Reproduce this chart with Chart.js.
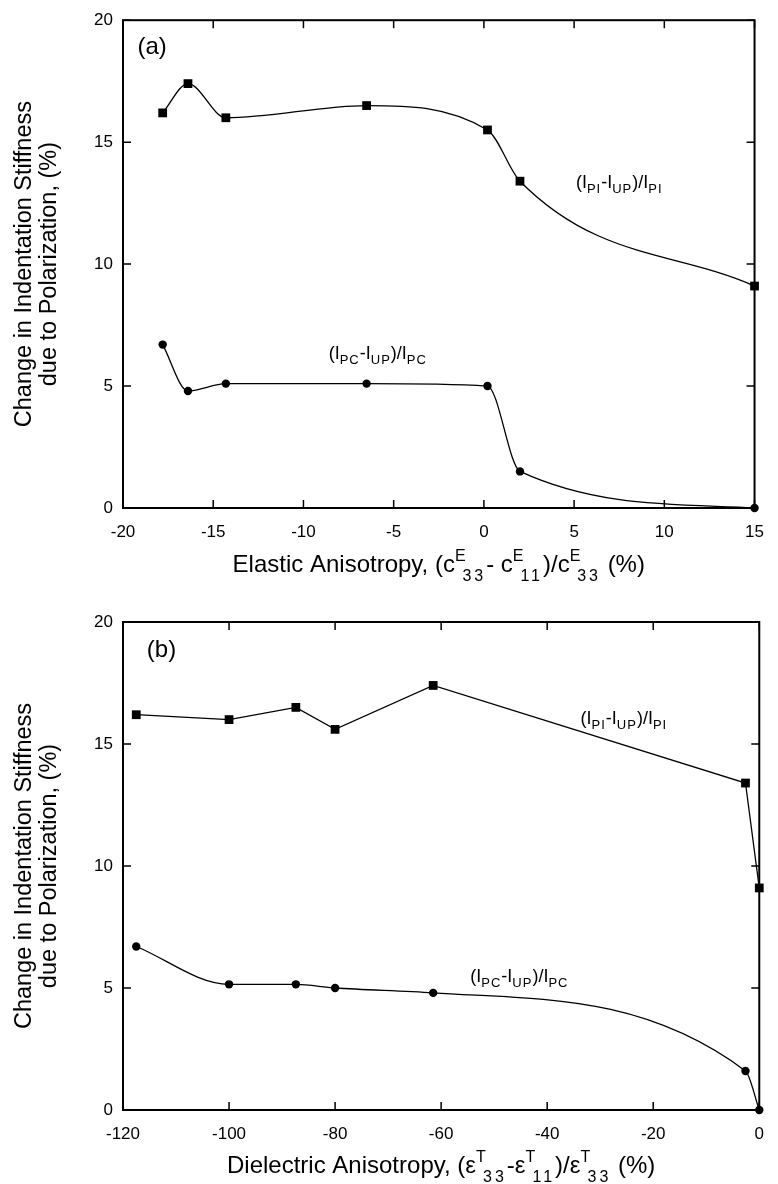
<!DOCTYPE html>
<html>
<head>
<meta charset="utf-8">
<script src="https://cdn.jsdelivr.net/npm/chart.js@4.4.1/dist/chart.umd.min.js"></script>
<style>
    html, body { margin: 0; padding: 0; background: #fff; }
    .panel { position: relative; width: 778px; }
    #panel-a { height: 600px; }
    #panel-b { height: 584px; }
</style>
</head>
<body>
<div class="panel" id="panel-a"><canvas id="chart-a"></canvas></div>
<div class="panel" id="panel-b"><canvas id="chart-b"></canvas></div>
<script>
// (a) elastic anisotropy
const elasticX = [-17.8, -16.4, -14.3, -6.5, 0.2, 2.0, 15];
const elasticPI = [16.2, 17.4, 16.0, 16.5, 15.5, 13.4, 9.1];
const elasticPC = [6.7, 4.8, 5.1, 5.1, 5.0, 1.5, 0];
const elasticTicks = [-20, -15, -10, -5, 0, 5, 10, 15];

// (b) dielectric anisotropy
const dielectricX = [-117.5, -100, -87.4, -80, -61.5, -2.6, 0];
const dielectricPI = [16.2, 16.0, 16.5, 15.6, 17.4, 13.4, 9.1];
const dielectricPC = [6.7, 5.15, 5.15, 5.0, 4.8, 1.6, 0];
const dielectricTicks = [-120, -100, -80, -60, -40, -20, 0];

const stiffnessTicks = [0, 5, 10, 15, 20];
const yTitle = ['Change in Indentation Stiffness', 'due to Polarization, (%)'];

const FONT = '"Liberation Sans", Arial, Helvetica, sans-serif';
const toPoints = (xs, ys) => xs.map((x, i) => ({ x, y: ys[i] }));

// rich text parts: [text, mode], mode 0 normal, 1 superscript, -1 subscript
// a subscript right after a superscript starts half way under it
function layoutRich(ctx, parts, s) {
    let x = 0, supW = 0;
    const out = [];
    parts.forEach(([t, m]) => {
        ctx.font = `${m === 0 ? s.size : s.small}px ${FONT}`;
        ctx.letterSpacing = m === 0 ? '0px' : s.spacing + 'px';
        const w = ctx.measureText(t).width;
        if (m === 1) { out.push({ t, m, x }); supW = w; return; }
        if (m === -1 && supW) {
            const sx = x + supW * 0.55;
            out.push({ t, m, x: sx });
            x = Math.max(x + supW, sx + w);
        } else {
            x += supW;
            out.push({ t, m, x });
            x += w;
        }
        supW = 0;
    });
    x += supW;
    ctx.letterSpacing = '0px';
    return { items: out, width: x };
}
function drawRich(ctx, parts, x, y, s, align) {
    const lay = layoutRich(ctx, parts, s);
    const x0 = align === 'center' ? x - lay.width / 2 : x;
    ctx.textAlign = 'left'; ctx.textBaseline = 'alphabetic';
    lay.items.forEach(({ t, m, x: dx }) => {
        ctx.font = `${m === 0 ? s.size : s.small}px ${FONT}`;
        ctx.letterSpacing = m === 0 ? '0px' : s.spacing + 'px';
        ctx.fillText(t, x0 + dx, y + (m === 1 ? s.supDy : m === -1 ? s.subDy : 0));
    });
    ctx.letterSpacing = '0px';
}

const noteStyle = { size: 18, small: 13, spacing: 1, supDy: -8, subDy: 5 };
const titleStyle = { size: 24, small: 16, spacing: 3, supDy: -11, subDy: 9 };

const framePlugin = {
    id: 'frame',
    beforeDatasetsDraw(chart, args, o) {
        const { ctx, chartArea: a, scales: { x, y } } = chart;
        ctx.save();
        ctx.strokeStyle = '#000';
        ctx.lineWidth = 2;
        ctx.strokeRect(a.left, a.top, a.right - a.left, a.bottom - a.top);
        ctx.lineWidth = 1.5;
        ctx.beginPath();
        o.xTicks.forEach(v => {
            const px = x.getPixelForValue(v);
            ctx.moveTo(px, a.bottom); ctx.lineTo(px, a.bottom - 8);
            ctx.moveTo(px, a.top); ctx.lineTo(px, a.top + 8);
        });
        o.yTicks.forEach(v => {
            const py = y.getPixelForValue(v);
            ctx.moveTo(a.left, py); ctx.lineTo(a.left + 8, py);
            ctx.moveTo(a.right, py); ctx.lineTo(a.right - 8, py);
        });
        ctx.stroke();
        ctx.restore();
    },
    afterDraw(chart, args, o) {
        const { ctx, chartArea: a, scales: { x, y } } = chart;
        ctx.save();
        ctx.fillStyle = '#000';
        // panel letter
        ctx.font = `24px ${FONT}`;
        ctx.textAlign = 'left'; ctx.textBaseline = 'middle';
        ctx.fillText(o.panel, x.getPixelForValue(o.panelAt[0]), y.getPixelForValue(o.panelAt[1]));
        // curve labels
        o.notes.forEach(n => drawRich(ctx, n.parts, x.getPixelForValue(n.at[0]), y.getPixelForValue(n.at[1]), noteStyle, 'left'));
        // x title
        drawRich(ctx, o.xTitle, (a.left + a.right) / 2, a.bottom + o.xTitleGap, titleStyle, 'center');
        // y title
        const midY = (a.top + a.bottom) / 2;
        ctx.font = `23.5px ${FONT}`;
        ctx.textAlign = 'center'; ctx.textBaseline = 'middle';
        yTitle.forEach((line, i) => {
            ctx.save();
            ctx.translate(25 + i * 25, midY);
            ctx.rotate(-Math.PI / 2);
            ctx.fillText(line, 0, 0);
            ctx.restore();
        });
        ctx.restore();
    }
};

function lineSet(points, style, radius, curved) {
    return {
        data: points,
        borderColor: '#000',
        backgroundColor: '#000',
        borderWidth: 1.3,
        pointStyle: style,
        pointRadius: radius,
        pointBorderWidth: 0,
        cubicInterpolationMode: curved ? 'monotone' : 'default',
        tension: 0,
        clip: false
    };
}

function makeChart(id, sets, xMin, xMax, xTicks, pad, xHeight, frameOpts) {
    return new Chart(document.getElementById(id), {
        type: 'line',
        data: { datasets: sets },
        plugins: [framePlugin],
        options: {
            responsive: true,
            maintainAspectRatio: false,
            animation: false,
            devicePixelRatio: 1,
            layout: { padding: pad },
            plugins: { legend: { display: false }, tooltip: { enabled: false }, frame: frameOpts },
            scales: {
                x: {
                    type: 'linear', min: xMin, max: xMax,
                    grid: { display: false, drawTicks: false },
                    border: { display: false },
                    afterBuildTicks: s => { s.ticks = xTicks.map(v => ({ value: v })); },
                    afterFit: s => { s.height = xHeight; },
                    ticks: { color: '#000', padding: 14, maxRotation: 0, autoSkip: false, font: { family: FONT, size: 17 } }
                },
                y: {
                    type: 'linear', min: 0, max: 20,
                    grid: { display: false, drawTicks: false },
                    border: { display: false },
                    afterBuildTicks: s => { s.ticks = stiffnessTicks.map(v => ({ value: v })); },
                    afterFit: s => { s.width = 123; },
                    ticks: { color: '#000', padding: 10, font: { family: FONT, size: 17 } }
                }
            }
        }
    });
}

const noteParts = (a) => [['(I', 0], ['P' + a, -1], ['-I', 0], ['UP', -1], [')/I', 0], ['P' + a, -1]];

makeChart('chart-a', [
    lineSet(toPoints(elasticX, elasticPI), 'rect', 6.2, true),
    lineSet(toPoints(elasticX, elasticPC), 'circle', 4.2, true)
], -20, 15, elasticTicks, { left: 0, right: 10, top: 18, bottom: 0 }, 92, {
    xTicks: elasticTicks, yTicks: stiffnessTicks,
    panel: '(a)', panelAt: [-19.2, 18.9],
    notes: [
        { parts: noteParts('I'), at: [5.1, 13.1] },
        { parts: noteParts('C'), at: [-8.6, 6.1] }
    ],
    xTitle: [['Elastic Anisotropy, (c', 0], ['E', 1], ['33', -1], ['- c', 0], ['E', 1], ['11', -1], [')/c', 0], ['E', 1], ['33', -1], [' (%)', 0]],
    xTitleGap: 64
});

makeChart('chart-b', [
    lineSet(toPoints(dielectricX, dielectricPI), 'rect', 6.2, false),
    lineSet(toPoints(dielectricX, dielectricPC), 'circle', 4.2, true)
], -120, 0, dielectricTicks, { left: 0, right: 10, top: 22, bottom: 0 }, 74, {
    xTicks: dielectricTicks, yTicks: stiffnessTicks,
    panel: '(b)', panelAt: [-115.5, 18.85],
    notes: [
        { parts: noteParts('I'), at: [-33.7, 15.8] },
        { parts: noteParts('C'), at: [-54.5, 5.25] }
    ],
    xTitle: [['Dielectric Anisotropy, (ε', 0], ['T', 1], ['33', -1], ['-ε', 0], ['T', 1], ['11', -1], [')/ε', 0], ['T', 1], ['33', -1], [' (%)', 0]],
    xTitleGap: 63
});
</script>
</body>
</html>
